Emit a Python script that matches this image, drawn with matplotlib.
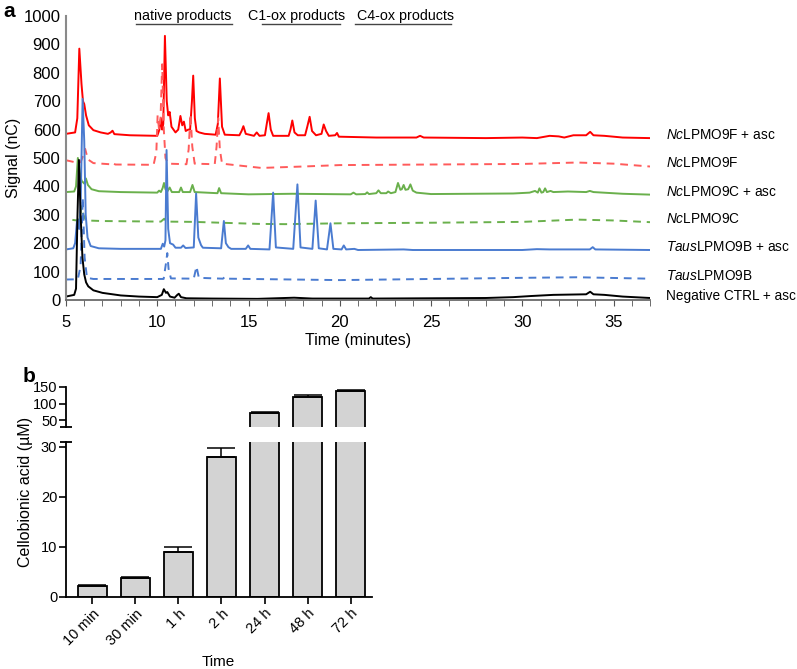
import numpy as np
import matplotlib
matplotlib.use('Agg')
import matplotlib.pyplot as plt
from matplotlib.ticker import MultipleLocator

plt.rcParams['font.family'] = ['Liberation Sans', 'DejaVu Sans']
plt.rcParams['mathtext.fontset'] = 'custom'
plt.rcParams['mathtext.rm'] = 'Liberation Sans'
plt.rcParams['mathtext.it'] = 'Liberation Sans:italic'

# ---- panel a: chromatogram traces, (time min, signal nC)
red_t = [5.0, 5.5, 5.62, 5.73, 5.85, 5.93, 6.0, 6.1, 6.25, 6.5, 6.9, 7.3, 7.45, 7.55, 7.65, 8.5,
         10.0, 10.12, 10.2, 10.27, 10.33, 10.42, 10.52, 10.6, 10.68, 10.78, 11.0, 11.15, 11.27,
         11.37, 11.46, 11.56, 11.7, 11.8, 11.9, 11.97, 12.06, 12.15, 12.3, 12.6, 13.2, 13.32,
         13.43, 13.55, 13.7, 14.5, 14.62, 14.72, 14.85, 15.3, 15.45, 15.6, 15.9, 16.0, 16.1,
         16.22, 16.35, 17.2, 17.3, 17.4, 17.52, 17.7, 18.1, 18.22, 18.35, 18.48, 18.7, 19.0,
         19.12, 19.25, 19.4, 19.75, 19.85, 19.95, 22.0, 24.2, 24.4, 24.6, 28.0, 30.0, 30.8,
         31.5, 32.0, 32.3, 32.8, 33.5, 33.72, 33.9, 34.5, 35.5, 37.0]
red_y = [585, 590, 640, 885, 760, 700, 690, 650, 615, 598, 590, 585, 590, 596, 584, 580,
         578, 600, 640, 600, 620, 930, 700, 650, 662, 610, 590, 600, 648,
         615, 628, 595, 600, 600, 700, 790, 640, 595, 590, 585, 582, 620,
         780, 610, 582, 580, 595, 612, 585, 578, 590, 578, 580, 620, 658,
         600, 578, 578, 600, 632, 590, 580, 580, 610, 645, 595, 580, 585,
         618, 595, 578, 580, 588, 575, 572, 572, 578, 572, 570, 572, 570,
         578, 576, 572, 580, 580, 592, 580, 578, 572, 570]

redd_t = [5.0, 5.5, 5.8, 5.95, 6.05, 6.2, 6.5, 7.4, 7.55, 7.7, 9.8, 9.95, 10.02, 10.1, 10.18,
          10.27, 10.36, 10.45, 10.6, 11.6, 11.72, 11.82, 11.92, 12.05, 13.15, 13.25, 13.34,
          13.43, 13.55, 15.7, 18.0, 20.0, 25.0, 30.0, 33.0, 35.0, 37.0]
redd_y = [492, 485, 485, 510, 532, 495, 482, 478, 484, 477, 476, 520, 650, 600, 640,
          830, 600, 500, 480, 478, 530, 655, 540, 480, 478, 540, 640,
          530, 480, 465, 470, 475, 477, 479, 484, 480, 470]

grn_t = [5.0, 5.45, 5.55, 5.65, 5.75, 5.85, 6.0, 6.09, 6.2, 6.4, 6.8, 8.0, 10.0, 10.1, 10.2,
         10.3, 10.37, 10.45, 10.55, 10.68, 10.8, 11.2, 11.3, 11.4, 11.8, 11.93, 12.05, 13.3,
         13.39, 13.5, 15.0, 17.4, 20.6, 20.75, 20.9, 21.4, 21.5, 21.6, 22.0, 22.12, 22.25,
         22.55, 22.65, 22.8, 23.05, 23.19, 23.32, 23.4, 23.5, 23.6, 23.75, 23.87, 24.0, 24.2,
         25.0, 29.5, 30.4, 30.7, 30.85, 30.94, 31.05, 31.15, 31.25, 31.35, 31.55, 31.7, 32.5,
         33.5, 33.7, 33.9, 35.5, 37.0]
grn_y = [380, 382, 400, 500, 450, 420, 410, 428, 405, 390, 383, 380, 378, 385, 380,
         395, 412, 390, 382, 396, 380, 380, 396, 380, 380, 405, 380, 376,
         394, 376, 372, 374, 372, 378, 372, 373, 379, 373, 376, 386, 376,
         376, 382, 376, 380, 412, 388, 390, 405, 388, 390, 407, 385, 378,
         373, 375, 378, 384, 378, 393, 378, 380, 393, 380, 384, 380, 382,
         380, 384, 380, 374, 371]

grnd_t = [5.35, 5.6, 5.75, 5.85, 5.95, 6.1, 7.0, 10.2, 10.38, 10.5, 12.0, 15.5, 17.0, 20.0,
          25.0, 30.0, 33.0, 35.0, 37.0]
grnd_y = [282, 280, 285, 330, 300, 280, 278, 276, 286, 276, 275, 268, 267, 270,
          272, 275, 283, 280, 274]

blu_t = [5.0, 5.4, 5.5, 5.6, 5.65, 5.72, 5.8, 5.91, 6.0, 6.08, 6.18, 6.35, 6.8, 8.0, 10.2,
         10.3, 10.38, 10.45, 10.51, 10.6, 10.7, 10.87, 11.0, 11.3, 11.42, 11.55, 12.0, 12.13,
         12.25, 12.4, 12.5, 13.5, 13.65, 13.76, 13.9, 14.05, 14.85, 14.98, 15.1, 16.15, 16.35,
         16.5, 17.45, 17.68, 17.85, 18.5, 18.68, 18.85, 19.3, 19.49, 19.65, 20.1, 20.22, 20.35,
         20.8, 21.0, 23.5, 24.0, 30.0, 30.8, 31.5, 33.7, 33.86, 34.0, 37.0]
blu_y = [178, 182, 200, 275, 282, 250, 330, 708, 560, 300, 220, 190, 182, 180, 180,
         198, 188, 210, 528, 250, 200, 195, 184, 184, 192, 183, 185, 375,
         220, 193, 184, 182, 278, 200, 186, 180, 180, 192, 180, 178, 378,
         185, 180, 407, 185, 180, 350, 182, 178, 270, 180, 178, 192, 178,
         180, 176, 178, 176, 176, 179, 178, 178, 186, 178, 176]

blud_t = [5.0, 5.65, 5.8, 5.92, 6.02, 6.15, 6.5, 10.35, 10.48, 10.55, 10.62, 10.75, 12.0,
          12.15, 12.28, 13.6, 13.72, 13.85, 20.0, 25.0, 30.0, 33.0, 37.0]
blud_y = [72, 73, 120, 360, 150, 78, 74, 74, 130, 165, 110, 76, 75,
          118, 78, 75, 82, 75, 70, 74, 78, 80, 75]

blk_t = [5.0, 5.45, 5.55, 5.63, 5.71, 5.8, 5.9, 6.0, 6.1, 6.22, 6.5, 7.0, 8.0, 9.0, 10.0,
         10.25, 10.36, 10.48, 10.55, 10.7, 10.95, 11.1, 11.18, 11.3, 11.6, 13.0, 15.5, 16.5,
         17.5, 18.5, 21.6, 21.7, 21.8, 28.0, 29.5, 30.5, 31.7, 33.5, 33.72, 33.9, 34.5, 35.5,
         37.0]
blk_y = [12, 18, 40, 300, 493, 300, 150, 90, 62, 48, 34, 25, 16, 12, 10,
         18, 38, 25, 28, 12, 8, 18, 22, 10, 6, 5, 4, 6,
         8, 5, 5, 10, 5, 7, 10, 14, 18, 20, 29, 20, 18, 12,
         7]

trace_labels = [r'$\mathit{Nc}$LPMO9F + asc', r'$\mathit{Nc}$LPMO9F',
                r'$\mathit{Nc}$LPMO9C + asc', r'$\mathit{Nc}$LPMO9C',
                r'$\mathit{Taus}$LPMO9B + asc', r'$\mathit{Taus}$LPMO9B',
                'Negative CTRL + asc']
label_y = [581, 482, 380, 285, 187, 85, 14]

regions = ['native products', 'C1-ox products', 'C4-ox products']
region_start = [8.83, 15.73, 20.82]
region_end = [14.09, 20.0, 26.07]
region_text_x = [11.4, 17.64, 23.6]

# ---- panel b: cellobionic acid
times = ['10 min', '30 min', '1 h', '2 h', '24 h', '48 h', '72 h']
conc = [2.2, 3.8, 8.9, 27.9, 73, 120, 136]
conc_err = [0.1, 0.1, 1.0, 1.9, 2, 5, 3]

fig = plt.figure(figsize=(7.97, 6.69), dpi=100)

# ================= panel a =================
ax = fig.add_axes([0.0828, 0.5516, 0.7328, 0.4245])
traces = [(red_t, red_y, '#ff0000', '-'), (redd_t, redd_y, '#ff5b5b', '--'),
          (grn_t, grn_y, '#6ab04c', '-'), (grnd_t, grnd_y, '#6ab04c', '--'),
          (blu_t, blu_y, '#4a7bd0', '-'), (blud_t, blud_y, '#4a7bd0', '--'),
          (blk_t, blk_y, '#000000', '-')]
for t, y, c, ls in traces:
    ax.plot(t, y, color=c, ls=ls, lw=1.4, dashes=(4, 3) if ls == '--' else (None, None))

ax.set_xlim(5, 37)
ax.set_ylim(0, 1000)
ax.set_yticks(np.arange(0, 1001, 100))
ax.set_xticks([5, 10, 15, 20, 25, 30, 35])
ax.xaxis.set_minor_locator(MultipleLocator(1))
for s in ['top', 'right']:
    ax.spines[s].set_visible(False)
ax.spines['left'].set_color('#8a8a8a')
ax.spines['bottom'].set_color('#6a6a6a')
ax.spines['left'].set_linewidth(1.5)
ax.spines['bottom'].set_linewidth(1.3)
ax.tick_params(axis='y', length=0, labelsize=12, pad=4)
ax.tick_params(axis='x', which='both', length=4, color='#555555', labelsize=12, pad=7)
ax.set_ylabel('Signal (nC)', fontsize=11.5, labelpad=2)
ax.set_xlabel('Time (minutes)', fontsize=11.5, labelpad=2)

for lab, ly in zip(trace_labels, label_y):
    ax.text(37.9, ly, lab, fontsize=9.8, ha='left', va='center', clip_on=False)

for name, x0, x1, xt in zip(regions, region_start, region_end, region_text_x):
    ax.text(xt, 1000, name, fontsize=10.3, ha='center', va='center', clip_on=False)
    ax.plot([x0, x1], [972, 972], color='#444444', lw=1.0, clip_on=False)

fig.text(0.004, 0.983, 'a', fontsize=15, fontweight='bold', va='center')

# ================= panel b =================
x = np.arange(len(times))
conc = np.array(conc)
conc_err = np.array(conc_err)
axl = fig.add_axes([0.0824, 0.108, 0.384, 0.2317])
axu = fig.add_axes([0.0824, 0.3617, 0.384, 0.0602])
axl.set_ylim(0, 31)
axu.set_ylim(30.5, 150)
for a in (axl, axu):
    lo, hi = a.get_ylim()
    a.bar(x, conc, width=0.66, color='#d3d3d3', edgecolor='black', linewidth=1.3, zorder=2)
    m = (conc > lo) & (conc < hi)
    a.errorbar(x[m], conc[m], yerr=[np.zeros(m.sum()), conc_err[m]], fmt='none', ecolor='black',
               elinewidth=1.1, capsize=10, capthick=1.1, zorder=3)
    a.set_xlim(-0.62, 6.49)
    for s in ['top', 'right']:
        a.spines[s].set_visible(False)
    a.spines['left'].set_linewidth(1.3)
    a.tick_params(axis='y', length=5, width=1.2, labelsize=10.5, pad=1)

axl.set_yticks([0, 10, 20, 30])
axl.spines['bottom'].set_linewidth(1.3)
axl.set_xticks(x)
axl.set_xticklabels(times, rotation=45, ha='right', rotation_mode='anchor', fontsize=10.5)
axl.tick_params(axis='x', length=5, width=1.2, pad=2)
axl.set_xlabel('Time', fontsize=11, labelpad=5)

axu.set_yticks([50, 100, 150])
axu.spines['bottom'].set_visible(False)
axu.set_xticks([])

# break marks on the y axis
axl.plot([0], [1], marker='_', ms=8, mew=1.3, color='black', transform=axl.transAxes, clip_on=False)
axu.plot([0], [0], marker='_', ms=8, mew=1.3, color='black', transform=axu.transAxes, clip_on=False)

fig.text(0.0824 - 0.05, (0.108 + 0.3617 + 0.0602) / 2, 'Cellobionic acid (\u00b5M)', rotation=90,
         fontsize=11.5, ha='center', va='center')
fig.text(0.028, 0.437, 'b', fontsize=15, fontweight='bold', va='center')

fig.savefig('out.png', dpi=100)
